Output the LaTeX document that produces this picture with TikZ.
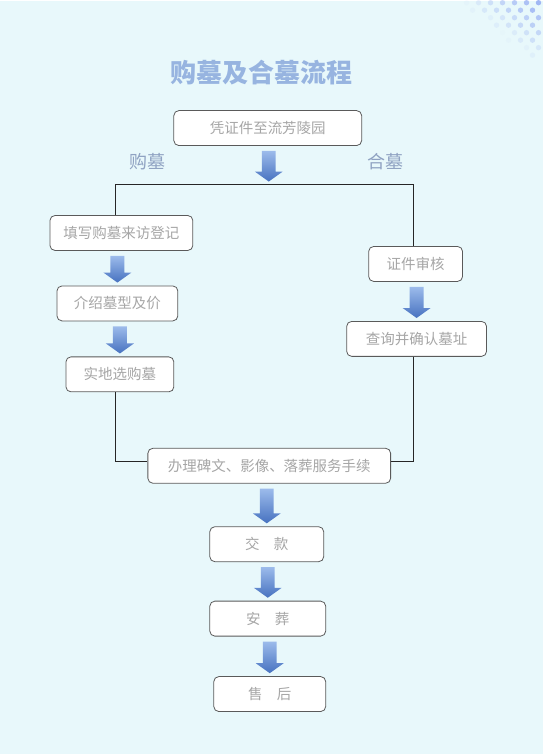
\documentclass[tikz,border=0pt]{standalone}
\usepackage{fontspec}
\newfontfamily\cjk{Noto Sans CJK SC}
\usetikzlibrary{calc}
\definecolor{bgcyan}{HTML}{E8F8FB}
\definecolor{titleblue}{HTML}{97B4E0}
\definecolor{sidegray}{HTML}{8FA2C2}
\definecolor{boxtext}{HTML}{A6A6A6}
\definecolor{boxline}{HTML}{5A5A5A}
\definecolor{arrowtop}{HTML}{9CBBEB}
\definecolor{arrowbot}{HTML}{4772C0}
\definecolor{dotblue}{HTML}{9DB4F4}
\newcommand\blkarrow[2]{%
  \shade[top color=arrowtop,bottom color=arrowbot]
    let \p1=(#1), \p2=(#2) in
    (\x2-7pt,\y1-5pt) -- (\x2+7pt,\y1-5pt) -- (\x2+7pt,\y2+13pt)
    -- (\x2+14pt,\y2+13pt) -- (\x2,\y2+3pt) -- (\x2-14pt,\y2+13pt)
    -- (\x2-7pt,\y2+13pt) -- cycle;}
\begin{document}
\begin{tikzpicture}[
    x=1pt, y=-1pt,
    box/.style={draw=boxline, line width=0.8pt, rounded corners=5pt,
      fill=white, text=boxtext, font=\cjk\fontsize{14.5}{16}\selectfont,
      minimum height=35pt, inner sep=0pt},
    side/.style={text=sidegray, font=\cjk\fontsize{18}{20}\selectfont},
    link/.style={draw=black!85, line width=0.7pt}
  ]
  \fill[bgcyan] (0,0) rectangle (543,754);
  \foreach \j in {0,...,7}
    \foreach \i in {0,...,6}
      \fill[dotblue, opacity={max(0,0.95-0.15*\i-0.12*\j)}]
        ({539-12*\i-6*mod(\j,2)}, {2+7.5*\j})
        circle (2.7);

  \node[text=titleblue, font=\cjk\bfseries\fontsize{26}{30}\selectfont]
  (title) at (262,72) {购墓及合墓流程};
  \node[side] (buy) at (148,161) {购墓};
  \node[side] (join) at (386,161) {合墓};

  \coordinate (lt) at (115,184);
  \coordinate (rt) at (414,184);
  \coordinate (lb) at (115,461);
  \coordinate (rb) at (414,461);
  \coordinate (split) at (269,184);

  \node[box, minimum width=188pt] (enter) at (268,127.5) {凭证件至流芳陵园};
  \node[box, minimum width=143pt] (record) at (121.5,232.5) {填写购墓来访登记};
  \node[box, minimum width=121pt] (price) at (117.5,303) {介绍墓型及价};
  \node[box, minimum width=108pt] (choose) at (120,374) {实地选购墓};
  \node[box, minimum width=94pt] (check) at (416,263.5) {证件审核};
  \node[box, minimum width=140pt] (site) at (417,338.5) {查询并确认墓址};
  \node[box, minimum width=243pt] (proc) at (269.5,465.5) {办理碑文、影像、落葬服务手续};
  \node[box, minimum width=114pt] (pay) at (267,544) {交\hspace{1em}款};
  \node[box, minimum width=116pt] (bury) at (268,618.5) {安\hspace{1em}葬};
  \node[box, minimum width=112pt] (after) at (270,694) {售\hspace{1em}后};

  \draw[link] (record.north -| lt) -- (lt) -- (rt) -- (check.north -| rt);
  \draw[link] (choose.south -| lb) -- (lb) -- (lb -| proc.west);
  \draw[link] (site.south -| rb) -- (rb) -- (rb -| proc.east);

  \blkarrow{enter.south}{split}
  \blkarrow{record.south}{price.north}
  \blkarrow{price.south}{choose.north}
  \blkarrow{check.south}{site.north}
  \blkarrow{proc.south}{pay.north}
  \blkarrow{pay.south}{bury.north}
  \blkarrow{bury.south}{after.north}
\end{tikzpicture}
\end{document}
